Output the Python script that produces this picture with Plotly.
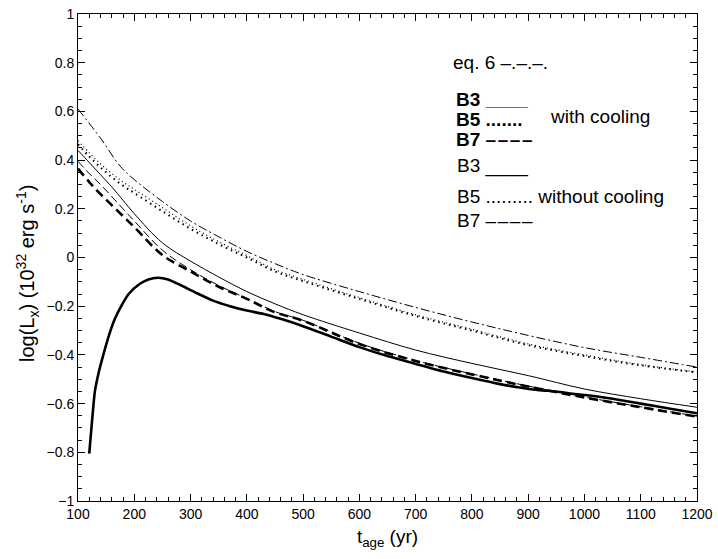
import plotly.graph_objects as go

# age grid (yr) and log(Lx) for each model
t_eq6 = [100, 140, 175, 200, 250, 300, 350, 400, 450, 500, 600, 700, 800, 900, 1000, 1100, 1200]
eq6 = [0.61, 0.49, 0.375, 0.32, 0.23, 0.15, 0.085, 0.025, -0.025, -0.07, -0.14, -0.205, -0.265, -0.32, -0.37, -0.41, -0.45]

t_std = [100, 120, 140, 160, 180, 200, 250, 300, 350, 400, 450, 500, 600, 700, 800, 900, 1000, 1100, 1200]

b3_nocool = [0.44, 0.39, 0.34, 0.29, 0.235, 0.18, 0.06, -0.015, -0.08, -0.14, -0.19, -0.235, -0.31, -0.38, -0.435, -0.485, -0.54, -0.58, -0.615]
b5_nocool = [0.48, 0.43, 0.385, 0.345, 0.31, 0.28, 0.205, 0.13, 0.065, 0.008, -0.05, -0.09, -0.165, -0.235, -0.295, -0.355, -0.40, -0.44, -0.47]
b7_nocool = [0.395, 0.345, 0.30, 0.25, 0.20, 0.15, 0.03, -0.05, -0.115, -0.168, -0.222, -0.258, -0.352, -0.423, -0.478, -0.528, -0.573, -0.613, -0.652]

b5_cool = [0.465, 0.415, 0.37, 0.33, 0.295, 0.265, 0.19, 0.118, 0.055, 0.0, -0.057, -0.097, -0.17, -0.24, -0.30, -0.36, -0.405, -0.443, -0.472]
b7_cool = [0.365, 0.31, 0.26, 0.215, 0.17, 0.125, 0.01, -0.057, -0.12, -0.17, -0.225, -0.26, -0.355, -0.425, -0.48, -0.53, -0.575, -0.615, -0.654]

t_b3c = [120, 125, 130, 137, 145, 155, 165, 178, 190, 210, 225, 242, 260, 281, 310, 340, 370, 400, 430, 460,
         500, 550, 600, 650, 700, 750, 800, 850, 885, 920, 950, 980, 1010, 1050, 1100, 1150, 1200]
b3_cool = [-0.805, -0.67, -0.55, -0.47, -0.40, -0.32, -0.255, -0.195, -0.15, -0.108, -0.09, -0.083, -0.09, -0.112,
           -0.145, -0.177, -0.2, -0.218, -0.232, -0.252, -0.282, -0.325, -0.368, -0.405, -0.437, -0.468, -0.495,
           -0.52, -0.534, -0.545, -0.55, -0.56, -0.567, -0.58, -0.60, -0.62, -0.64]

fig = go.Figure()

def add(x, y, w, dash, smooth=1.0):
    fig.add_trace(go.Scatter(x=x, y=y, mode='lines', showlegend=False,
                             line=dict(color='black', width=w, dash=dash, shape='spline', smoothing=smooth)))

add(t_eq6, eq6, 1, '9px,3px,2px,3px')
add(t_std, b5_nocool, 1.2, '1px,3px')
add(t_std, b5_cool, 2, '1.5px,4px')
add(t_std, b3_nocool, 1, 'solid')
add(t_std, b7_nocool, 1, '8px,4px')
add(t_std, b7_cool, 2.6, '9px,5px')
add(t_b3c, b3_cool, 2.6, 'solid', 0.6)

# plot area in page pixels
L, R, T, B = 78, 697, 14, 501

def paper(px, py):
    return (px - L) / (R - L), (B - py) / (B - T)

FONT = 'Liberation Sans, Arial'

# hand-made key, as in the original
font = dict(family=FONT, size=19, color='black')
dash4 = '\u2013\u200a\u2013\u200a\u2013\u200a\u2013'
notes = [
    (451, 62, 'eq. 6 \u2013.\u2013.\u2013.'),
    (454, 100, '<b>B3 ____</b>'),
    (454, 119, '<b>B5 .......</b>'),
    (548, 117, 'with cooling'),
    (454, 140, '<b>B7 ' + dash4 + '</b>'),
    (455, 166, 'B3 ____'),
    (455, 196, 'B5 ......... without cooling'),
    (455, 220, 'B7 ' + dash4),
]
for px, py, txt in notes:
    x, y = paper(px, py)
    fig.add_annotation(x=x, y=y, xref='paper', yref='paper', text=txt, showarrow=False,
                       xanchor='left', yanchor='middle', font=font)

# y title sits a little below the middle of the axis in the original
x, y = paper(28, 274)
fig.add_annotation(x=x, y=y, xref='paper', yref='paper', textangle=-90, showarrow=False,
                   text='log(L<sub>x</sub>) (10<sup>32</sup> erg s<sup>-1</sup>)',
                   xanchor='center', yanchor='middle', font=dict(family=FONT, size=20, color='black'))

axis = dict(showline=True, linecolor='black', linewidth=1, mirror='allticks', ticks='inside',
            ticklen=7, tickcolor='black', showgrid=False, zeroline=False, automargin=False,
            ticklabeloverflow='allow', tickfont=dict(family=FONT, size=14, color='black'))

fig.update_xaxes(**axis, range=[100, 1200], dtick=100, tick0=100,
                 minor=dict(ticks='inside', ticklen=4, dtick=20, tickcolor='black', showgrid=False),
                 title=dict(text='t<sub>age</sub> (yr)', standoff=8,
                            font=dict(family=FONT, size=19, color='black')))
fig.update_yaxes(**axis, range=[-1, 1], dtick=0.2, tick0=0,
                 minor=dict(ticks='inside', ticklen=4, dtick=0.05, tickcolor='black', showgrid=False))

fig.update_layout(width=718, height=559, plot_bgcolor='white', paper_bgcolor='white',
                  margin=dict(l=L, r=718 - R, t=T, b=559 - B))

# drop the default 8px page margin so the figure fills the window
fig.write_html("out.html", config={'displayModeBar': False},
               post_script="document.body.style.margin='0';")
